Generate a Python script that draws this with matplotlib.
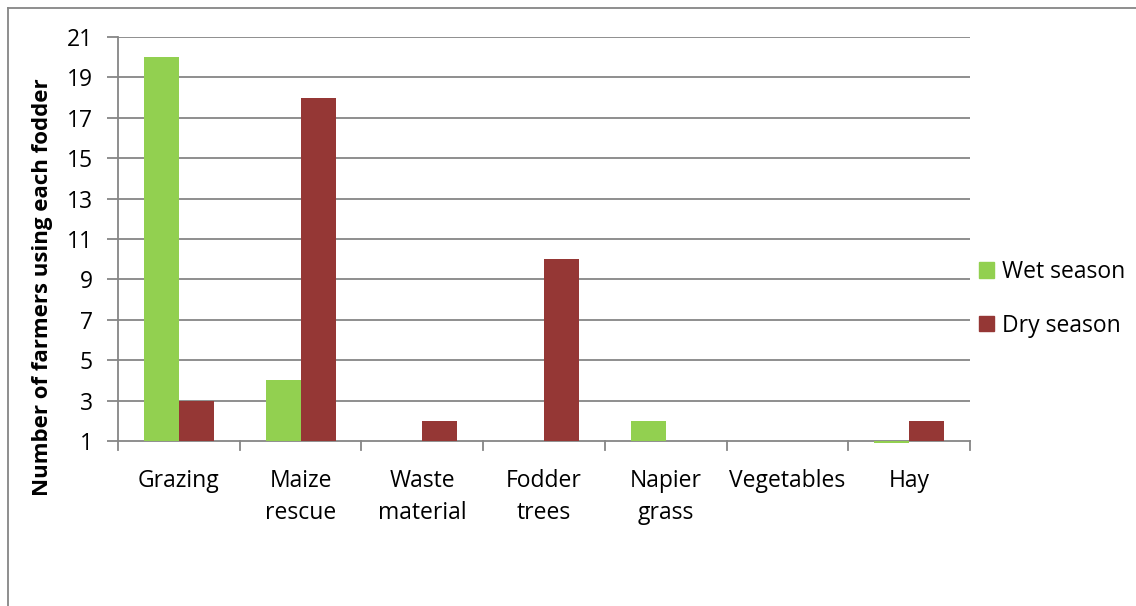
import numpy as np
import matplotlib.pyplot as plt
from matplotlib.patches import Patch

categories = ["Grazing", "Maize\nrescue", "Waste\nmaterial", "Fodder\ntrees",
              "Napier\ngrass", "Vegetables", "Hay"]
wet_season = [20, 4, 0, 0, 2, 0, 0.9]
dry_season = [3, 18, 2, 10, 0, 0, 2]
y_ticks = [1, 3, 5, 7, 9, 11, 13, 15, 17, 19, 21]

green = '#92D050'
red = '#953735'
grey = '#868686'
n = 16.5
plt.rcParams['font.family'] = ['Open Sans', 'DejaVu Sans']

fig = plt.figure(figsize=(11.36, 6.06), dpi=100)
ax = fig.add_axes([118/1136, 1-441/606, (970-118)/1136, (441-37)/606])

# outer chart frame (cut off at right and bottom)
fig.add_artist(plt.Line2D([8/1136, 8/1136], [0, 1-7.5/606], color=grey, lw=1.3))
fig.add_artist(plt.Line2D([8/1136, 1], [1-7.5/606, 1-7.5/606], color=grey, lw=1.3))

x = np.arange(len(categories))
w = 0.287
base = y_ticks[0]
wet = np.array(wet_season, dtype=float)
dry = np.array(dry_season, dtype=float)
wet_h = np.where(wet > 0, wet - base, np.nan)
dry_h = np.where(dry > 0, dry - base, np.nan)
ax.bar(x - w/2, wet_h, w, bottom=base, color=green, zorder=3, clip_on=False)
ax.bar(x + w/2, dry_h, w, bottom=base, color=red, zorder=3, clip_on=False)

ax.set_xlim(-0.5, len(categories) - 0.5)
ax.set_ylim(1, 21)
ax.set_yticks(y_ticks)
ax.tick_params(axis='y', labelsize=n, length=8, width=1.3, color=grey, pad=10)
for t in y_ticks[1:]:
    ax.axhline(t, color=grey, lw=1.3, zorder=1)

ax.set_xticks(x)
ax.set_xticklabels(categories, size=n, linespacing=1.45)
ax.tick_params(axis='x', length=0, pad=20)
# category boundary tick marks
for b in np.arange(-0.5, len(categories) + 0.5, 1):
    ax.plot([b, b], [1, 0.55], color=grey, lw=1.3, clip_on=False, zorder=4)

for s in ['top', 'right']:
    ax.spines[s].set_visible(False)
ax.spines['left'].set_color(grey)
ax.spines['left'].set_linewidth(1.3)
ax.spines['bottom'].set_color(grey)
ax.spines['bottom'].set_linewidth(1.3)
ax.spines['bottom'].set_zorder(2)

fig.text(43/1136, 1-287/606, "Number of farmers using each fodder", rotation=90,
         ha='center', va='center', size=16, weight='bold')

handles = [Patch(color=green, label='Wet season'), Patch(color=red, label='Dry season')]
fig.legend(handles=handles, loc='center left', bbox_to_anchor=(958/1136, 1-299/606),
           frameon=False, fontsize=n, handlelength=0.65, handleheight=0.65,
           handletextpad=0.35, labelspacing=1.3)

plt.savefig("out.png", dpi=100)
